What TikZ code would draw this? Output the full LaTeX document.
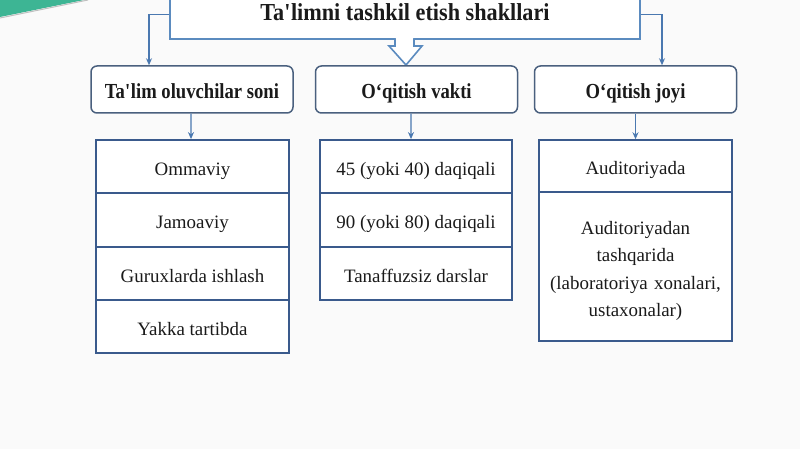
\documentclass[tikz,border=0pt]{standalone}
\usepackage{fontspec}
\setmainfont{Liberation Serif}
\newfontfamily\titlefont{Liberation Serif}[FakeStretch=0.91]
\newfontfamily\headfont{Liberation Serif}[FakeStretch=0.87]
\usetikzlibrary{arrows.meta}
\definecolor{titleedge}{HTML}{5B8BBF}
\definecolor{headedge}{HTML}{4A607E}
\definecolor{listedge}{HTML}{3A5A8C}
\definecolor{arrowcol}{HTML}{4A78B0}
\definecolor{txt}{HTML}{1A1A1A}
\definecolor{deco}{HTML}{3DB594}
\definecolor{bg}{HTML}{FAFAFA}
\tikzset{
  titlebox/.style={draw=titleedge, line width=1.6bp, fill=white, minimum width=470bp, minimum height=49bp, inner sep=0pt,
    font=\titlefont\fontsize{24.5}{28}\selectfont\bfseries, text=txt, text height=18bp, text depth=5.6bp},
  headbox/.style={draw=headedge, line width=1.5bp, fill=white, rounded corners=6bp, minimum width=202bp, minimum height=47bp,
    inner sep=0pt, font=\headfont\fontsize{21.5}{24}\selectfont\bfseries, text=txt, text height=19.6bp, text depth=2bp},
  cellbox/.style={draw=listedge, line width=1.5bp, fill=white, minimum width=193bp, minimum height=53.3bp, inner sep=0pt},
  cell/.style={cellbox, font=\fontsize{19}{27}\selectfont, text=txt, text height=20bp, text depth=2bp},
  celltext/.style={font=\fontsize{19}{27.4}\selectfont, text=txt, align=center, inner sep=0pt},
  conn/.style={draw=arrowcol, line width=1.3bp, -{Stealth[length=7bp,width=6bp]}}
}
\begin{document}
\begin{tikzpicture}[x=1bp,y=-1bp]
\useasboundingbox (0,0) rectangle (800,449);
\fill[bg] (0,0) rectangle (800,449);
% decoration top-left
\fill[deco] (0,0) -- (84,0) -- (0,17) -- cycle;
\draw[gray!50, line width=1bp] (0,18) -- (88,0);
% title
\node[titlebox] (title) at (405,14.5) {Ta\textquotesingle limni tashkil etish shakllari};
\filldraw[draw=titleedge, fill=white, line width=1.6bp, line join=miter]
  (395,39) -- (395,46) -- (389,46) -- (406,65) -- (422,46) -- (414,46) -- (414,39);
\fill[white] (395.9,37.5) rectangle (413.1,41);
% headers
\node[headbox] (n1) at (192,89.5) {Ta\textquotesingle lim oluvchilar soni};
\node[headbox] (n2) at (416.5,89.5) {O‘qitish vakti};
\node[headbox] (n3) at (635.5,89.5) {O‘qitish joyi};
% left list
\node[cell] (l1) at (192.5,166.5) {Ommaviy};
\node[cell] (l2) at (192.5,220) {Jamoaviy};
\node[cell] (l3) at (192.5,273.5) {Guruxlarda ishlash};
\node[cell] (l4) at (192.5,326.5) {Yakka tartibda};
% middle list
\node[cell, minimum width=192bp] (m1) at (416,166.5) {45 (yoki 40) daqiqali};
\node[cell, minimum width=192bp] (m2) at (416,220) {90 (yoki 80) daqiqali};
\node[cell, minimum width=192bp] (m3) at (416,273.5) {Tanaffuzsiz darslar};
% right list
\node[cell, minimum height=52bp] (r1) at (635.5,166) {Auditoriyada};
\node[cellbox, minimum height=149bp] (r2) at (635.5,266.5) {};
\node[celltext, text width=185bp] (r2t) at ([yshift=-4.5bp]r2.center)
  {Auditoriyadan\\tashqarida\\(laboratoriya xonalari,\\ustaxonalar)};
% connectors
\draw[conn] (title.west) -| ([xshift=-43bp]n1.north);
\draw[conn] (title.east) -| ([xshift=26.5bp]n3.north);
\draw[conn] ([xshift=-1bp]n1.south) -- ([xshift=-1.5bp]l1.north);
\draw[conn] ([xshift=-5.5bp]n2.south) -- ([xshift=-5bp]m1.north);
\draw[conn] (n3.south) -- (r1.north);
\end{tikzpicture}
\end{document}
